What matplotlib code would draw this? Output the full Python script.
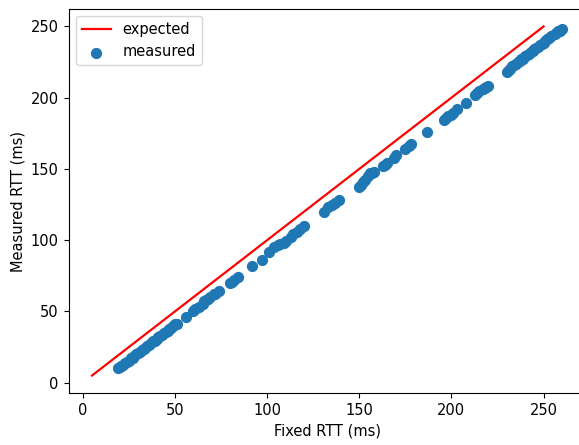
import matplotlib
matplotlib.use("Agg")
import matplotlib.pyplot as plt

plt.rcParams["font.size"] = 10.5

expected_x = [5, 250]
expected_y = [5, 250]

fixed_rtt = [19, 20, 21, 22, 23, 24, 25, 26, 27, 28, 29, 30, 31, 32, 33, 34, 35, 36, 37, 38,
             39, 40, 41, 42, 43, 44, 45, 46, 47, 48, 49, 50, 51,
             56, 60, 61, 63, 65, 66, 67, 68, 69, 71, 72, 74,
             80, 81, 82, 84,
             92, 97, 101, 104, 106, 107, 109, 110, 113, 114, 116, 118, 120,
             131, 133, 135, 137, 139,
             150, 151, 152, 153, 155, 156, 157, 158, 163, 164, 165, 169, 170, 175, 177, 178,
             187, 196, 197, 198, 200, 201, 203, 208, 213, 214, 215, 217, 218, 219, 220,
             230, 231, 232, 233, 234, 235, 236, 237, 238, 239, 240, 241, 242, 243, 244, 245,
             246, 247, 248, 249, 250, 251, 252, 253, 254, 256, 257, 258, 259, 260]

measured_rtt = [10, 11, 11.5, 12.5, 14, 14.5, 15.5, 17, 17.5, 18.5, 20, 20.5, 21.5, 23, 23.5, 24.5, 26, 26.5, 27.5, 29,
                29.5, 30.5, 32, 32.5, 33.5, 35, 35.5, 36.5, 38, 38.5, 39.5, 41, 41.5,
                46, 50, 51.5, 53, 55.5, 57, 58, 59, 60, 62, 62.5, 64,
                70, 70.5, 72, 74,
                82, 86, 92, 95.5, 96.5, 97.5, 98, 99.5, 102.5, 104, 106, 108, 110,
                120, 123, 124.5, 126, 128,
                137.5, 139, 141, 142, 145, 147, 147.5, 148, 152, 153, 154, 158, 159.5, 164, 166, 167.5,
                176, 184, 186, 187, 188, 189, 192, 196, 202, 203, 204.5, 206, 207, 207.5, 208,
                218, 219.5, 220, 222, 223, 223.5, 225, 226, 227, 227.5, 229, 230, 231, 232, 233, 234,
                235, 235.5, 237, 238, 238.5, 240, 241, 242, 243, 244.5, 245.5, 246.5, 247, 248]

assert len(fixed_rtt) == len(measured_rtt)

fig = plt.figure(figsize=(5.79, 4.45), dpi=100)
ax = fig.add_axes([68.5 / 579, 52 / 445, 517 / 579, 384 / 445])
ax.plot(expected_x, expected_y, color="red", label="expected", linewidth=1.6)
ax.scatter(fixed_rtt, measured_rtt, label="measured", s=50)
ax.set_xlabel("Fixed RTT (ms)")
ax.set_ylabel("Measured RTT (ms)")
ax.legend(loc="upper left")
fig.savefig("out.png", dpi=100)
